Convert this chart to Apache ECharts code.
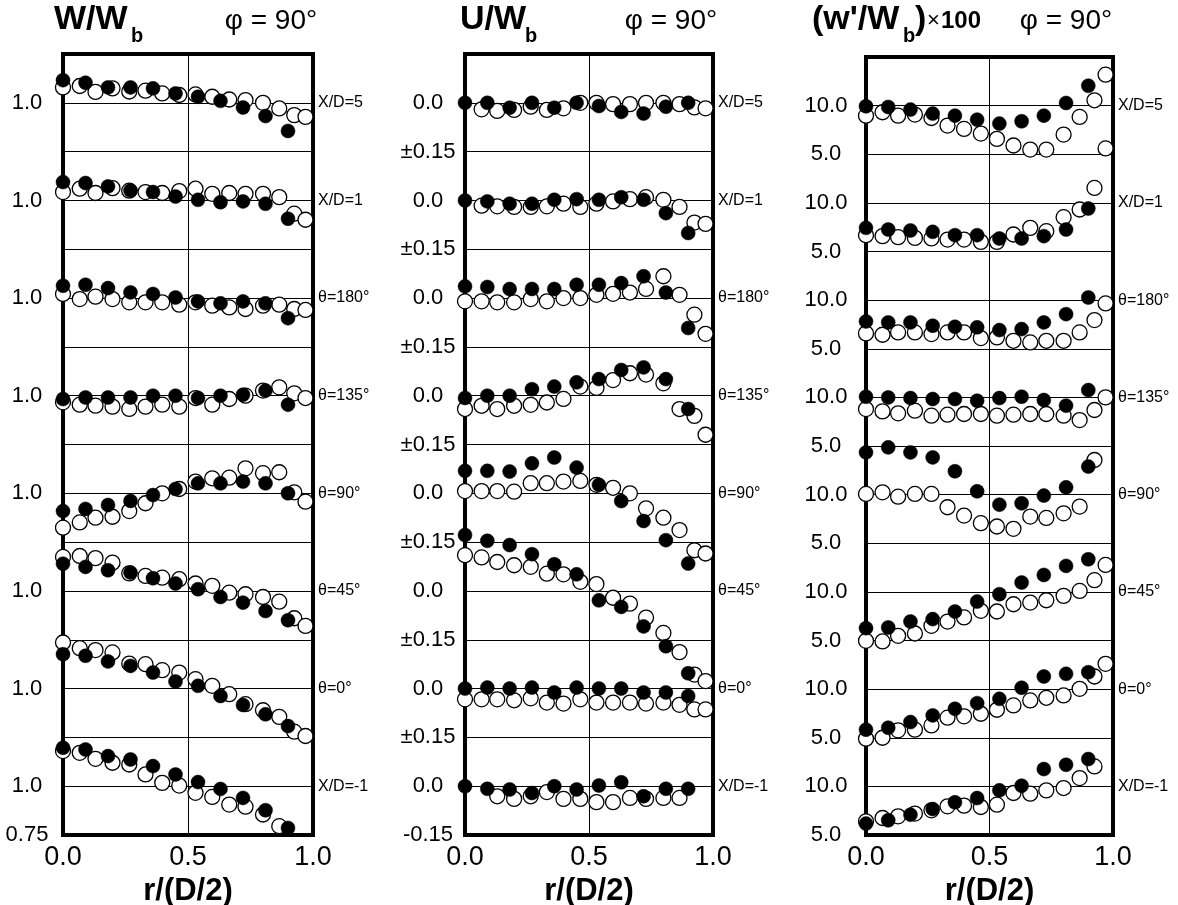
<!DOCTYPE html>
<html><head><meta charset="utf-8">
<script src="https://cdn.jsdelivr.net/npm/echarts@6/dist/echarts.min.js"></script>
<style>html,body{margin:0;padding:0;background:#fff}#c{width:1178px;height:905px}</style>
</head><body><div id="c"></div>
<script>
// ---- categories ----
const profiles = ['X/D=5', 'X/D=1', 'θ=180°', 'θ=135°', 'θ=90°', 'θ=45°', 'θ=0°', 'X/D=-1'];
const rFilled = [0, 0.09, 0.18, 0.27, 0.36, 0.45, 0.54, 0.63, 0.72, 0.81, 0.90];
const rOpen = [0, 0.067, 0.13, 0.198, 0.265, 0.33, 0.397, 0.465, 0.53, 0.597, 0.665, 0.73, 0.80, 0.865, 0.925, 0.97];

// ---- tick labels ----
const xTicks = ['0.0', '0.5', '1.0'];
const W_ticks = { bottom: '0.75', base: '1.0', mid: '' };
const U_ticks = { bottom: '-0.15', base: '0.0', mid: '±0.15' };
const WP_ticks = { bottom: '5.0', base: '10.0', mid: '5.0' };

// ---- W/Wb (profile order as in profiles) ----
const W_filled = [
  [1.116, 1.103, 1.079, 1.079, 1.074, 1.048, 1.031, 1.010, 0.976, 0.932, 0.856],
  [1.094, 1.089, 1.072, 1.051, 1.043, 1.020, 1.003, 0.991, 0.995, 0.983, 0.906],
  [1.063, 1.068, 1.051, 1.029, 1.021, 1.003, 0.983, 0.973, 0.983, 0.973, 0.897],
  [0.983, 0.991, 0.991, 0.991, 1.000, 1.000, 0.988, 1.000, 1.005, 1.026, 0.954],
  [0.909, 0.920, 0.940, 0.961, 0.991, 1.022, 1.051, 1.051, 1.060, 1.051, 1.000],
  [1.139, 1.123, 1.106, 1.094, 1.065, 1.038, 1.009, 0.969, 0.940, 0.897, 0.850],
  [1.176, 1.168, 1.139, 1.116, 1.082, 1.036, 1.014, 0.962, 0.916, 0.868, 0.808],
  [1.197, 1.188, 1.154, 1.137, 1.103, 1.060, 1.021, 0.986, 0.940, 0.877, 0.786]
];
const W_open = [
  [1.079, 1.086, 1.056, 1.074, 1.058, 1.062, 1.048, 1.040, 1.043, 1.031, 1.017, 1.014, 1.000, 0.971, 0.937, 0.928],
  [1.043, 1.060, 1.038, 1.063, 1.050, 1.043, 1.038, 1.048, 1.060, 1.034, 1.038, 1.034, 1.034, 1.017, 0.932, 0.901],
  [1.021, 0.995, 1.007, 0.995, 0.978, 0.978, 0.978, 0.966, 0.978, 0.961, 0.952, 0.944, 0.961, 0.966, 0.944, 0.939],
  [0.966, 0.954, 0.949, 0.944, 0.932, 0.944, 0.954, 0.944, 0.988, 0.954, 0.983, 1.000, 1.026, 1.043, 1.012, 0.988],
  [0.824, 0.851, 0.875, 0.880, 0.909, 0.949, 1.000, 1.022, 1.060, 1.077, 1.080, 1.128, 1.103, 1.108, 1.005, 0.957],
  [1.174, 1.179, 1.168, 1.145, 1.090, 1.077, 1.068, 1.060, 1.038, 1.026, 0.991, 0.983, 0.969, 0.945, 0.860, 0.821],
  [1.236, 1.207, 1.197, 1.185, 1.128, 1.125, 1.094, 1.082, 1.048, 1.014, 0.971, 0.920, 0.889, 0.855, 0.779, 0.757],
  [1.180, 1.171, 1.140, 1.120, 1.111, 1.060, 1.017, 1.003, 0.966, 0.945, 0.906, 0.895, 0.855, 0.795, null, null]
];

// ---- U/Wb ----
const U_filled = [
  [0, 0, -0.015, 0, -0.015, 0, -0.010, -0.028, -0.033, -0.012, 0],
  [0, -0.003, -0.010, -0.010, 0.002, 0.004, 0.002, 0.010, 0.002, -0.039, -0.100],
  [0.036, 0.034, 0.028, 0.028, 0.028, 0.041, 0.041, 0.046, 0.067, 0.017, -0.092],
  [-0.007, 0, 0, 0.020, 0.028, 0.041, 0.051, 0.079, 0.087, 0.051, -0.041],
  [0.069, 0.069, 0.067, 0.092, 0.110, 0.079, 0.026, -0.024, -0.085, -0.144, -0.216],
  [0.172, 0.154, 0.141, 0.113, 0.082, 0.051, -0.029, -0.049, -0.109, -0.170, -0.253],
  [0, 0.003, 0, 0.003, -0.012, 0.003, 0, 0, -0.012, -0.012, -0.023],
  [0, -0.008, -0.010, -0.021, 0, -0.010, 0.002, 0.012, -0.031, -0.008, -0.008]
];
const U_open = [
  [null, -0.020, -0.025, -0.022, -0.012, -0.022, -0.017, 0, 0, -0.004, -0.004, 0, 0, -0.004, -0.014, -0.017],
  [null, -0.016, -0.018, -0.020, -0.020, -0.018, -0.010, -0.020, -0.010, -0.003, 0.004, 0.010, 0.002, -0.020, -0.068, -0.072],
  [-0.010, -0.010, -0.013, -0.013, -0.003, -0.010, 0, 0, 0.010, 0.013, 0.017, 0.028, 0.067, 0.010, -0.051, -0.110],
  [-0.041, -0.031, -0.041, -0.031, -0.028, -0.021, -0.010, 0.028, 0.024, 0.048, 0.069, 0.065, 0.038, -0.041, -0.062, -0.120],
  [0.007, 0.007, 0.007, 0.005, 0.031, 0.031, 0.036, 0.038, 0.026, 0.017, 0, -0.046, -0.075, -0.113, -0.175, -0.185],
  [0.110, 0.103, 0.089, 0.079, 0.074, 0.053, 0.051, 0.028, 0.021, -0.021, -0.039, -0.082, -0.129, -0.188, -0.257, -0.277],
  [-0.033, -0.033, -0.033, -0.036, -0.030, -0.043, -0.046, -0.033, -0.043, -0.043, -0.043, -0.046, -0.043, -0.050, -0.064, -0.064],
  [null, null, -0.031, -0.039, -0.031, -0.018, -0.039, -0.039, -0.049, -0.049, -0.036, -0.039, -0.036, -0.036, null, null]
];

// ---- (w'/Wb)x100 ----
const WP_filled = [
  [9.93, 9.86, 9.59, 9.18, 8.97, 8.56, 8.15, 8.39, 8.97, 10.27, 12.05],
  [7.43, 7.26, 7.16, 7.02, 6.68, 6.68, 6.34, 6.34, 6.58, 7.26, 9.42],
  [7.81, 7.71, 7.71, 7.37, 7.26, 7.20, 6.92, 7.02, 7.71, 8.56, 10.27],
  [10.07, 10.00, 9.93, 9.83, 9.83, 9.66, 9.93, 10.07, 9.73, 9.15, 10.75],
  [14.34, 14.86, 14.34, 13.83, 12.40, 10.34, 8.97, 9.11, 9.90, 10.75, 12.88],
  [6.27, 6.34, 6.95, 7.20, 7.98, 9.00, 9.76, 10.96, 11.74, 12.67, 13.35],
  [5.83, 6.03, 6.61, 7.30, 7.98, 8.56, 9.00, 10.14, 11.30, 11.57, 11.74],
  [6.17, 6.51, 7.09, 7.67, 8.36, 8.80, 9.59, 10.07, 11.78, 12.22, 12.81]
];
const WP_open = [
  [8.97, 9.32, 8.97, 9.08, 8.73, 7.95, 7.60, 7.13, 6.58, 5.90, 5.48, 5.48, 7.02, 8.84, 10.55, 13.18],
  [6.68, 6.58, 6.47, 6.40, 6.34, 6.23, 6.23, 5.99, 5.99, 6.75, 7.43, 7.09, 8.53, 9.32, 11.54, 15.60],
  [6.58, 6.44, 6.68, 6.68, 6.51, 6.68, 6.68, 6.10, 6.17, 5.82, 5.65, 5.82, 5.82, 6.68, 7.95, 9.66],
  [8.80, 8.56, 8.36, 8.63, 8.12, 8.22, 8.29, 8.29, 8.12, 8.22, 8.29, 8.29, 8.12, 7.67, 8.70, 10.00],
  [10.07, 10.24, 9.79, 10.07, 10.07, 8.70, 7.85, 7.06, 6.72, 6.48, 7.74, 7.60, 8.08, 8.77, 13.56, null],
  [4.97, 4.90, 5.48, 5.72, 6.51, 6.95, 7.37, 8.05, 7.98, 8.73, 8.90, 9.14, 9.59, 10.10, 11.20, 12.77],
  [4.90, 5.00, 5.76, 5.83, 6.27, 7.06, 7.20, 7.47, 7.88, 8.32, 8.84, 9.11, 9.35, 10.03, 11.30, 12.60],
  [6.41, 6.75, 6.92, 7.20, 7.54, 7.95, 8.02, 7.88, 8.12, 9.32, 9.25, 9.59, 9.83, 10.85, 12.05, null]
];

// ---- layout ----
const FONT = '"Liberation Sans", Arial, Helvetica, sans-serif';
const panels = [
  { filled: W_filled, open: W_open, ref: 1.0, step: 0.25, ticks: W_ticks,
    grid: { left: 63, top: 54, width: 250, height: 781 }, lblMargin: 36 },
  { filled: U_filled, open: U_open, ref: 0.0, step: 0.15, ticks: U_ticks,
    grid: { left: 465, top: 54, width: 248, height: 781 }, lblMargin: 37 },
  { filled: WP_filled, open: WP_open, ref: 10.0, step: 5.0, ticks: WP_ticks,
    grid: { left: 866, top: 57, width: 247, height: 778 }, lblMargin: 40 }
];
const NP = profiles.length;
const TOP = 2 * NP; // 16

function toPoints(rs, rows, p) {
  const out = [];
  rows.forEach((row, k) => {
    const base = TOP - 1 - 2 * k;
    row.forEach((v, i) => {
      if (v === null || v === undefined) return;
      out.push([rs[i], base + (v - p.ref) / p.step]);
    });
  });
  return out;
}

const grids = [], xAxes = [], yAxes = [], series = [];
panels.forEach((p, gi) => {
  grids.push(Object.assign({ show: true, borderColor: '#000', borderWidth: 4, backgroundColor: 'transparent',
    containLabel: false, outerBoundsMode: 'none' }, p.grid));
  xAxes.push({
    type: 'value', gridIndex: gi, min: 0, max: 1, interval: 0.5,
    axisLine: { show: false }, axisTick: { show: false },
    splitLine: { show: true, lineStyle: { color: '#000', width: 1 } },
    axisLabel: { fontFamily: FONT, fontSize: 27, color: '#000', margin: 9,
      formatter: v => xTicks[Math.round(v / 0.5)] },
    name: 'r/(D/2)', nameLocation: 'middle', nameGap: 38,
    nameTextStyle: { fontFamily: FONT, fontSize: 31, fontWeight: 'bold', color: '#000' }
  });
  yAxes.push({
    type: 'value', gridIndex: gi, min: 0, max: TOP, interval: 1, position: 'left',
    axisLine: { show: false }, axisTick: { show: false },
    splitLine: { show: true, lineStyle: { color: '#000', width: 1 } },
    axisLabel: { fontFamily: FONT, fontSize: 22, color: '#000', align: 'center', margin: p.lblMargin,
      formatter: v => v === 0 ? p.ticks.bottom : (v === TOP ? '' : (v % 2 === 1 ? p.ticks.base : p.ticks.mid)) }
  });
  yAxes.push({
    type: 'value', gridIndex: gi, min: 0, max: TOP, interval: 1, position: 'right',
    axisLine: { show: false }, axisTick: { show: false }, splitLine: { show: false },
    axisLabel: { fontFamily: FONT, fontSize: 16, color: '#000', align: 'left', margin: 5,
      formatter: v => (v % 2 === 1) ? profiles[(TOP - 1 - v) / 2] : '' }
  });
  series.push({
    type: 'scatter', xAxisIndex: gi, yAxisIndex: gi * 2, z: 3,
    symbol: 'circle', symbolSize: 15, clip: false,
    itemStyle: { color: '#fff', borderColor: '#000', borderWidth: 1.3, opacity: 1 },
    data: toPoints(rOpen, p.open, p), silent: true
  });
  series.push({
    type: 'scatter', xAxisIndex: gi, yAxisIndex: gi * 2, z: 4,
    symbol: 'circle', symbolSize: 14, clip: false,
    itemStyle: { color: '#000', borderColor: '#000', borderWidth: 0.5, opacity: 1 },
    data: toPoints(rFilled, p.filled, p), silent: true
  });
});

function txt(x, y, s, font, align) {
  return { type: 'text', x: x, y: y, silent: true,
    style: { text: s, font: font, fill: '#000', align: align || 'left', verticalAlign: 'middle' } };
}
const bold34 = 'bold 34px ' + FONT, bold20 = 'bold 20px ' + FONT, reg28 = '28px ' + FONT;
const graphics = [
  txt(54, 20, 'W/W', bold34), txt(131, 36, 'b', bold20), txt(271, 21, 'φ = 90°', reg28, 'center'),
  txt(460, 20, 'U/W', bold34), txt(525, 36, 'b', bold20), txt(671, 21, 'φ = 90°', reg28, 'center'),
  txt(812, 20, "(w'/W", bold34), txt(903, 36, 'b', bold20), txt(915, 20, ')', bold34),
  txt(927, 21, '×', '22px ' + FONT), txt(941, 21, '100', 'bold 24px ' + FONT),
  txt(1066, 21, 'φ = 90°', reg28, 'center')
];

const chart = echarts.init(document.getElementById('c'), null, { renderer: 'canvas' });
chart.setOption({
  animation: false,
  backgroundColor: '#fff',
  grid: grids, xAxis: xAxes, yAxis: yAxes, series: series,
  graphic: graphics
});
</script></body></html>
